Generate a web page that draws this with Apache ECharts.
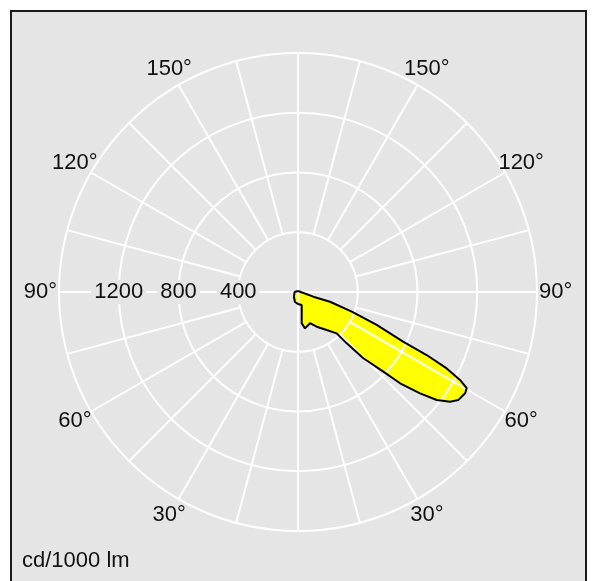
<!DOCTYPE html>
<html>
<head>
<meta charset="utf-8">
<script src="https://cdn.jsdelivr.net/npm/echarts@6/dist/echarts.min.js"></script>
<style>
html,body{margin:0;padding:0;background:#fff;}
#c{width:595px;height:581px;}
</style>
</head>
<body>
<div id="c"></div>
<script>
// ---- data ----
const radiusMax = 1600;
const radiusTicks = [400, 800, 1200, 1600];
const radiusTickLabels = ['400', '800', '1200'];
const radialStep = 15;
const angleTickGammas = [30, 60, 90, 120, 150];
const angleTickLabels = ['30°', '60°', '90°', '120°', '150°'];
const unitLabel = 'cd/1000 lm';
// outline of the intensity curve, gamma in degrees (positive = right half C0, negative = left half C180)
const outlineGamma = [180, 120, 73, 73, 70, 67.3, 64.7, 63.9, 62.8, 61.5, 60.3, 58.8, 56, 54.2, 52.1, 50.3, 48.2, 47, 44.6, 43.5, 43.1, 37, 28.3, 21, 10.9, 6.7, 9.9, 15.9, 0, -17, -39, -90, -127];
const outlineIntensity = [7, 8, 107, 224, 383, 571, 778, 959, 1119, 1234, 1300, 1308, 1294, 1255, 1177, 1062, 917, 781, 623, 474, 379, 319, 264, 224, 248, 211, 145, 90, 80, 70, 43, 23, 17];

// ---- build ----
const toAxisAngle = g => (g >= 0 ? g : 360 + g);
const outlineData = outlineGamma.map((g, i) => [outlineIntensity[i], toAxisAngle(g)]);
const outlineClosed = outlineData.concat([outlineData[0]]);

const radialAngles = [];
for (let a = 0; a < 360; a += radialStep) radialAngles.push(a);

const angleLabelData = [];
angleTickGammas.forEach((g, i) => {
  angleLabelData.push([1725, g, angleTickLabels[i]]);
  angleLabelData.push([1725, 360 - g, angleTickLabels[i]]);
});

const BG = '#e5e5e5';
const FONT = '"Liberation Sans", Arial, Helvetica, sans-serif';
const FS = 22;

const chart = echarts.init(document.getElementById('c'));
chart.setOption({
  backgroundColor: '#ffffff',
  animation: false,
  graphic: [
    { type: 'rect', z: -10, shape: { x: 11, y: 11, width: 575, height: 620 },
      style: { fill: BG, stroke: '#1a1a1a', lineWidth: 2 } },
    { type: 'text', z: 10, x: 22, y: 561,
      style: { text: unitLabel, fill: '#111', font: FS + 'px ' + FONT, align: 'left', verticalAlign: 'middle' } }
  ],
  polar: { center: [298, 292], radius: 239 },
  angleAxis: {
    type: 'value', min: 0, max: 360, interval: 15, startAngle: 270, clockwise: false,
    axisLine: { show: false }, axisTick: { show: false }, axisLabel: { show: false }, splitLine: { show: false }
  },
  radiusAxis: {
    type: 'value', min: 0, max: radiusMax, interval: 400,
    axisLine: { show: false }, axisTick: { show: false }, axisLabel: { show: false }, splitLine: { show: false }
  },
  series: [
    { // fill
      type: 'custom', coordinateSystem: 'polar', z: 1, silent: true,
      data: [[0, 0]],
      renderItem: function (params, api) {
        const pts = outlineData.map(d => api.coord(d));
        return { type: 'polygon', shape: { points: pts }, style: { fill: '#ffff00', stroke: 'none' } };
      }
    },
    { // circles
      type: 'custom', coordinateSystem: 'polar', z: 2, silent: true,
      data: radiusTicks.map(r => [r, 0]),
      renderItem: function (params, api) {
        const c = api.coord([0, 0]);
        const e = api.coord([radiusTicks[params.dataIndex], 0]);
        const rr = Math.hypot(e[0] - c[0], e[1] - c[1]);
        return { type: 'circle', shape: { cx: c[0], cy: c[1], r: rr }, style: { fill: 'none', stroke: '#ffffff', lineWidth: 2 } };
      }
    },
    { // radial lines
      type: 'custom', coordinateSystem: 'polar', z: 2, silent: true,
      data: radialAngles.map(a => [0, a]),
      renderItem: function (params, api) {
        const a = radialAngles[params.dataIndex];
        const r0 = (a % 90 === 0) ? 0 : radiusTicks[0];
        const p0 = api.coord([r0, a]);
        const p1 = api.coord([radiusMax, a]);
        return { type: 'line', shape: { x1: p0[0], y1: p0[1], x2: p1[0], y2: p1[1] }, style: { stroke: '#ffffff', lineWidth: 2 } };
      }
    },
    { // outline
      type: 'line', coordinateSystem: 'polar', z: 3, silent: true,
      data: outlineClosed, symbol: 'none', smooth: false,
      lineStyle: { color: '#000', width: 2 }
    },
    { // radius labels
      type: 'custom', coordinateSystem: 'polar', z: 4, silent: true,
      data: radiusTickLabels.map((t, i) => [radiusTicks[i], 270]),
      renderItem: function (params, api) {
        const p = api.coord([radiusTicks[params.dataIndex], 270]);
        return { type: 'text', x: p[0], y: p[1],
          style: { text: radiusTickLabels[params.dataIndex], fill: '#111', font: FS + 'px ' + FONT,
            align: 'center', verticalAlign: 'middle', backgroundColor: BG, padding: [1, 3] } };
      }
    },
    { // angle labels
      type: 'custom', coordinateSystem: 'polar', z: 4, silent: true,
      data: angleLabelData.map(d => [d[0], d[1]]),
      renderItem: function (params, api) {
        const d = angleLabelData[params.dataIndex];
        const p = api.coord([d[0], d[1]]);
        return { type: 'text', x: p[0], y: p[1],
          style: { text: d[2], fill: '#111', font: FS + 'px ' + FONT, align: 'center', verticalAlign: 'middle' } };
      }
    }
  ]
});
</script>
</body>
</html>
